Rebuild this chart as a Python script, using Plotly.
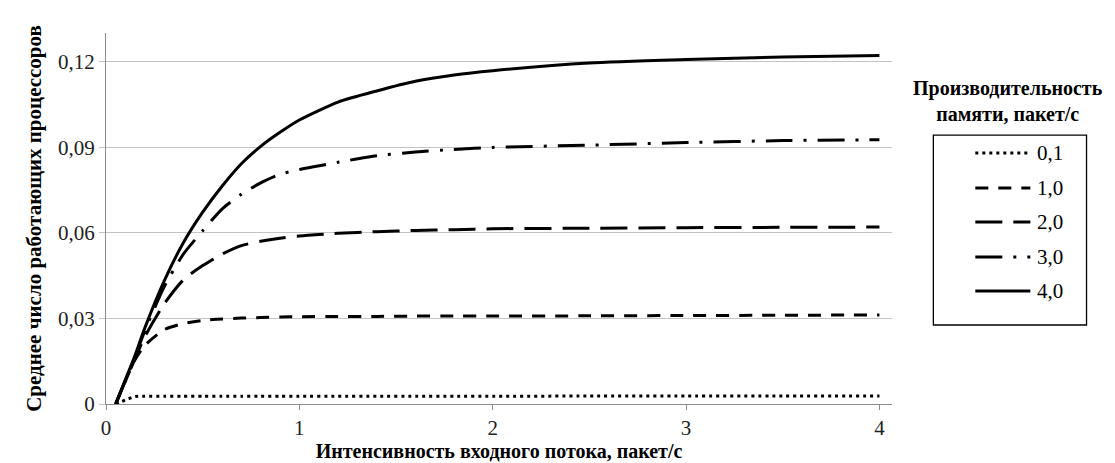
import plotly.graph_objects as go

# Input flow intensity, packets/s
x_vals = [0.05, 0.1, 0.15, 0.2, 0.3, 0.4, 0.5, 0.6, 0.7, 0.8, 0.9, 1.0,
          1.2, 1.4, 1.6, 1.8, 2.0, 2.5, 3.0, 3.5, 4.0]

# Mean number of busy processors for each memory throughput
y_01 = [0, 0.0014, 0.0026, 0.0027, 0.0027, 0.0027, 0.0027, 0.0027, 0.0027, 0.0027,
        0.0027, 0.0027, 0.0027, 0.0027, 0.0027, 0.0027, 0.0027, 0.0028, 0.0028,
        0.0028, 0.0028]
y_10 = [0, 0.008, 0.0155, 0.0205, 0.026, 0.0282, 0.0293, 0.0298, 0.0301, 0.0303,
        0.0305, 0.0306, 0.0307, 0.0307, 0.0308, 0.0308, 0.0308, 0.0309, 0.031,
        0.0311, 0.0312]
y_20 = [0, 0.008, 0.0158, 0.0235, 0.035, 0.0435, 0.0485, 0.0525, 0.0555, 0.057,
        0.0581, 0.0589, 0.0598, 0.0604, 0.0608, 0.0611, 0.0614, 0.0616, 0.0618,
        0.0619, 0.062]
y_30 = [0, 0.0083, 0.0165, 0.0255, 0.041, 0.0525, 0.0607, 0.0683, 0.0735, 0.0775,
        0.0805, 0.0822, 0.0847, 0.087, 0.0883, 0.0892, 0.0899, 0.0907, 0.0916,
        0.0923, 0.0926]
y_40 = [0, 0.0085, 0.017, 0.0265, 0.043, 0.0565, 0.0672, 0.0763, 0.0842, 0.0903,
        0.0952, 0.0995, 0.1058, 0.1097, 0.1131, 0.1153, 0.1168, 0.1195, 0.1207,
        0.1216, 0.1221]

series_names = ["0,1", "1,0", "2,0", "3,0", "4,0"]
series_values = [y_01, y_10, y_20, y_30, y_40]
dash_styles = ["3px,4px", "13px,10px", "27px,11px", "27px,11px,3px,11px", "solid"]

x_ticks = [0, 1, 2, 3, 4]
x_tick_text = ["0", "1", "2", "3", "4"]
y_ticks = [0, 0.03, 0.06, 0.09, 0.12]
y_tick_text = ["0", "0,03", "0,06", "0,09", "0,12"]

SERIF = "Liberation Serif"

fig = go.Figure()
for name, ys, dash in zip(series_names, series_values, dash_styles):
    fig.add_trace(go.Scatter(
        x=x_vals, y=ys, name=name, mode="lines",
        line=dict(color="black", width=3, dash=dash, shape="spline", smoothing=0.6),
    ))

fig.update_layout(
    template="none",
    width=1115, height=463,
    margin=dict(l=106, r=223, t=33, b=59),
    paper_bgcolor="white", plot_bgcolor="white",
    font=dict(family=SERIF, size=21, color="black"),
    showlegend=False,
    xaxis=dict(
        range=[0, 4.065], tickvals=x_ticks, ticktext=x_tick_text,
        showgrid=False, zeroline=False,
        showline=True, linecolor="#8c8c8c", linewidth=1,
        ticks="outside", ticklen=5, tickcolor="#8c8c8c",
        tickfont=dict(family=SERIF, size=21, color="#222"),
        title=dict(text="<b>Интенсивность входного потока, пакет/с</b>",
                   font=dict(family=SERIF, size=20, color="black"), standoff=4),
    ),
    yaxis=dict(
        range=[0, 0.13], tickvals=y_ticks, ticktext=y_tick_text,
        showgrid=True, gridcolor="#c4c4c4", gridwidth=1, zeroline=False,
        showline=True, linecolor="#8c8c8c", linewidth=1,
        ticks="outside", ticklen=6, tickcolor="#c4c4c4",
        tickfont=dict(family=SERIF, size=21, color="#222"),
        title=dict(text="<b>Среднее число работающих процессоров</b>",
                   font=dict(family=SERIF, size=21, color="black"), standoff=10),
    ),
)

# Legend: framed box with a line sample and label per series, heading above it
legend_left, legend_right = 1.0526, 1.2475
legend_top, legend_bottom = 0.725, 0.213
key_x0, key_x1, label_x = 1.106, 1.176, 1.1824
row_y = [0.6765, 0.5822, 0.4906, 0.3962, 0.3046]

fig.add_shape(type="rect", xref="paper", yref="paper",
              x0=legend_left, x1=legend_right, y0=legend_bottom, y1=legend_top,
              line=dict(color="black", width=1.3))
for name, dash, ry in zip(series_names, dash_styles, row_y):
    fig.add_shape(type="line", xref="paper", yref="paper",
                  x0=key_x0, x1=key_x1, y0=ry, y1=ry,
                  line=dict(color="black", width=3, dash=dash))
    fig.add_annotation(xref="paper", yref="paper", x=label_x, y=ry,
                       xanchor="left", yanchor="middle", text=name, showarrow=False,
                       font=dict(family=SERIF, size=21, color="black"))

fig.add_annotation(
    xref="paper", yref="paper", x=1.148, y=0.817, xanchor="center", yanchor="middle",
    text="<b>Производительность<br>памяти, пакет/с</b>", showarrow=False,
    font=dict(family=SERIF, size=20, color="black"), align="center",
)

fig.write_html("out.html")
